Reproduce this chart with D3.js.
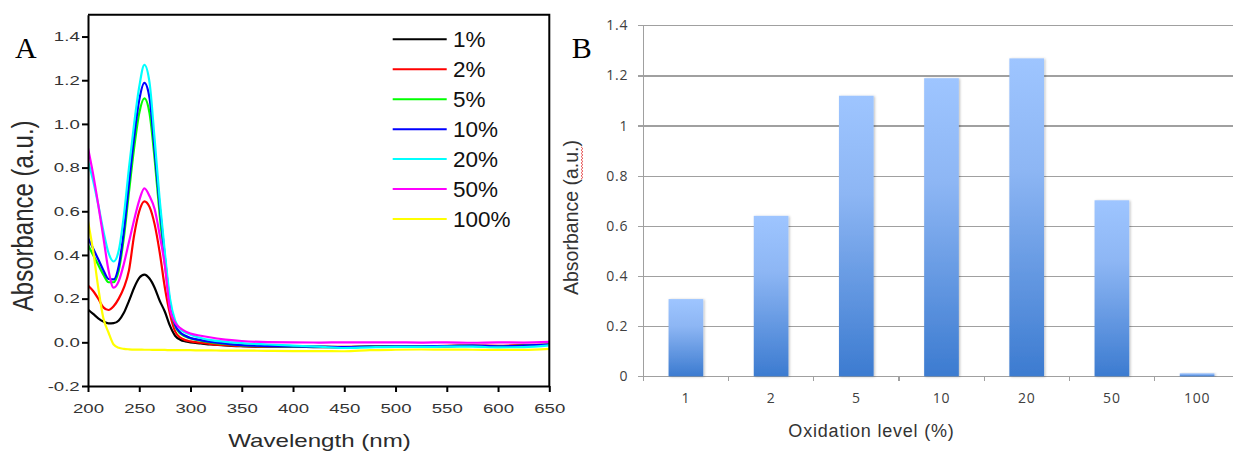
<!DOCTYPE html>
<html lang="en">
<head>
    <meta charset="UTF-8"/>
    <title>d3</title>
    <script src="https://d3js.org/d3.v7.min.js"></script>
    <style>
        body { margin: 0; background: #fff; }
        svg { display: block; }
        .a-axis path, .a-axis line { stroke: #000; stroke-width: 2; fill: none; }
        .a-axis text { font: 13.5px "Liberation Sans", Arial, sans-serif; fill: #333; }
        .b-axis path, .b-axis line { stroke: #a0a0a0; stroke-width: 1.2; fill: none; shape-rendering: crispedges; }
        .b-axis text { font: 14px "Open Sans", sans-serif; fill: #404040; letter-spacing: 0.8px; }
        .b-axis .grid-line { stroke: #a0a0a0; stroke-width: 1.2; }
    </style>
</head>
<body></body>
<script type="text/javascript">
    // ---- panel A: UV-vis spectra ----
    const wavelengths = [200, 205, 210, 215, 220, 225, 230, 235, 240, 245, 250, 255, 260, 265, 270, 275, 280, 285, 290, 295,
        300, 310, 320, 330, 340, 350, 375, 400, 425, 450, 475, 500, 525, 550, 575, 600, 625, 650];
    const abs1 = [0.150, 0.130, 0.110, 0.095, 0.087, 0.088, 0.100, 0.135, 0.190, 0.250, 0.295, 0.310, 0.292, 0.250, 0.190, 0.140, 0.075, 0.030, 0.012, 0.004,
        0.000, -0.005, -0.010, -0.013, -0.016, -0.018, -0.020, -0.020, -0.022, -0.022, -0.020, -0.018, -0.018, -0.017, -0.016, -0.018, -0.015, -0.012];
    const abs2 = [0.260, 0.235, 0.200, 0.160, 0.148, 0.165, 0.200, 0.250, 0.330, 0.490, 0.600, 0.645, 0.620, 0.540, 0.410, 0.250, 0.130, 0.050, 0.022, 0.010,
        0.004, -0.002, -0.008, -0.012, -0.015, -0.017, -0.020, -0.020, -0.020, -0.021, -0.020, -0.018, -0.018, -0.016, -0.015, -0.016, -0.013, -0.010];
    const abs5 = [0.446, 0.400, 0.355, 0.310, 0.275, 0.275, 0.330, 0.480, 0.690, 0.890, 1.050, 1.117, 1.050, 0.840, 0.580, 0.360, 0.170, 0.075, 0.040, 0.027,
        0.018, 0.008, 0.000, -0.006, -0.010, -0.014, -0.018, -0.020, -0.021, -0.022, -0.020, -0.019, -0.018, -0.017, -0.016, -0.018, -0.015, -0.011];
    const abs10 = [0.477, 0.430, 0.380, 0.330, 0.290, 0.288, 0.350, 0.510, 0.730, 0.940, 1.110, 1.188, 1.120, 0.880, 0.620, 0.390, 0.180, 0.080, 0.045, 0.030,
        0.020, 0.010, 0.002, -0.004, -0.009, -0.013, -0.017, -0.019, -0.020, -0.022, -0.020, -0.019, -0.018, -0.017, -0.015, -0.018, -0.015, -0.010];
    const abs20 = [0.830, 0.740, 0.630, 0.510, 0.410, 0.370, 0.420, 0.580, 0.800, 1.000, 1.170, 1.270, 1.190, 0.930, 0.650, 0.410, 0.200, 0.100, 0.060, 0.045,
        0.035, 0.020, 0.010, 0.004, 0.000, -0.004, -0.010, -0.015, -0.020, -0.026, -0.023, -0.021, -0.021, -0.020, -0.020, -0.023, -0.022, -0.014];
    const abs50 = [0.890, 0.770, 0.630, 0.480, 0.330, 0.250, 0.280, 0.360, 0.460, 0.560, 0.650, 0.705, 0.670, 0.610, 0.490, 0.350, 0.150, 0.090, 0.065, 0.050,
        0.040, 0.030, 0.022, 0.015, 0.010, 0.006, 0.001, 0.000, -0.001, 0.000, 0.000, 0.000, -0.001, 0.000, -0.002, 0.000, -0.001, 0.002];
    const abs100 = [0.555, 0.420, 0.250, 0.110, 0.045, -0.010, -0.025, -0.030, -0.032, -0.033, -0.033, -0.034, -0.034, -0.035, -0.035, -0.035, -0.036, -0.036, -0.036, -0.036,
        -0.036, -0.037, -0.037, -0.038, -0.038, -0.038, -0.039, -0.040, -0.040, -0.041, -0.036, -0.034, -0.033, -0.033, -0.034, -0.035, -0.035, -0.030];
    const seriesNames = ["1%", "2%", "5%", "10%", "20%", "50%", "100%"];
    const seriesColors = ["#000000", "#ff0000", "#00ff00", "#0000ff", "#00ffff", "#ff00ff", "#ffff00"];
    const xTicksA = [200, 250, 300, 350, 400, 450, 500, 550, 600, 650];
    const yTicksA = [-0.2, 0, 0.2, 0.4, 0.6, 0.8, 1.0, 1.2, 1.4];

    // ---- panel B: bar chart ----
    const levels = ["1", "2", "5", "10", "20", "50", "100"];
    const barValues = [0.308, 0.640, 1.119, 1.189, 1.268, 0.702, 0.012];
    const yTicksB = [0, 0.2, 0.4, 0.6, 0.8, 1, 1.2, 1.4];

    let width = 1233, height = 453;

    let svg = d3.select("body").append("svg")
        .attr("width", width)
        .attr("height", height);

    let defs = svg.append("defs");

    // ================= panel A =================
    let a = {left: 88, right: 549.3, top: 14.7, bottom: 386};

    let xA = d3.scaleLinear().domain([200, 650]).range([a.left, a.right]);
    let yA = d3.scaleLinear().domain([-0.2, 1.5]).range([a.bottom, a.top]);

    defs.append("clipPath").attr("id", "clipA")
        .append("rect")
        .attr("x", a.left).attr("y", a.top)
        .attr("width", a.right - a.left).attr("height", a.bottom - a.top);

    let seriesValues = [abs1, abs2, abs5, abs10, abs20, abs50, abs100];

    let line = d3.line()
        .x((d, i) => xA(wavelengths[i]))
        .y(d => yA(d))
        .curve(d3.curveMonotoneX);

    svg.append("g")
        .attr("clip-path", "url(#clipA)")
        .selectAll("path")
        .data(seriesValues)
        .join("path")
        .attr("d", line)
        .attr("fill", "none")
        .attr("stroke", (d, i) => seriesColors[i])
        .attr("stroke-width", 2.2)
        .attr("stroke-linejoin", "round");

    // frame (top and right)
    svg.append("path")
        .attr("d", `M${a.left},${a.top}H${a.right}V${a.bottom}`)
        .attr("fill", "none")
        .attr("stroke", "#000")
        .attr("stroke-width", 2);

    let fmtA = d3.format(".1f");
    let gyA = svg.append("g")
        .attr("class", "a-axis")
        .attr("transform", "translate(" + a.left + ",0)")
        .call(d3.axisLeft(yA).tickValues(yTicksA).tickSize(6).tickPadding(0).tickSizeOuter(0)
            .tickFormat(d => fmtA(d).replace("\u2212", "-")));
    gyA.selectAll("text").attr("transform", "scale(1.38,1)");

    let gxA = svg.append("g")
        .attr("class", "a-axis")
        .attr("transform", "translate(0," + a.bottom + ")")
        .call(d3.axisBottom(xA).tickValues(xTicksA).tickSize(6).tickPadding(11).tickSizeOuter(0));
    gxA.selectAll("text").attr("transform", "scale(1.38,1)");

    // legend
    let legendY = d3.scalePoint().domain(seriesNames).range([39.3, 219]);
    let legend = svg.append("g");
    legend.selectAll("line")
        .data(seriesNames)
        .join("line")
        .attr("x1", 392.7).attr("x2", 446.7)
        .attr("y1", d => legendY(d)).attr("y2", d => legendY(d))
        .attr("stroke", (d, i) => seriesColors[i])
        .attr("stroke-width", 2);
    legend.selectAll("text")
        .data(seriesNames)
        .join("text")
        .attr("x", 453)
        .attr("y", d => legendY(d))
        .attr("dy", "0.36em")
        .style("font", '22.5px "Liberation Sans", Arial, sans-serif')
        .style("fill", "#111")
        .text(d => d);

    // titles
    svg.append("text")
        .attr("transform", "translate(319.5,446.7) scale(1.34,1)")
        .attr("text-anchor", "middle")
        .style("font", '18px "Liberation Sans", Arial, sans-serif')
        .style("fill", "#2b2b2b")
        .text("Wavelength (nm)");

    svg.append("text")
        .attr("transform", "translate(33.3,215.8) scale(1.2,1) rotate(-90)")
        .attr("text-anchor", "middle")
        .style("font", '24px "Liberation Sans", Arial, sans-serif')
        .style("fill", "#2b2b2b")
        .text("Absorbance (a.u.)");

    svg.append("text")
        .attr("x", 15).attr("y", 58.3)
        .style("font", '30px "Liberation Serif", "Times New Roman", serif')
        .style("fill", "#000")
        .text("A");

    // ================= panel B =================
    let b = {left: 643.3, right: 1239.7, top: 25.3, bottom: 376.3};

    let xB = d3.scaleBand().domain(levels).range([b.left, b.right]);
    let yB = d3.scaleLinear().domain([0, 1.4]).range([b.bottom, b.top]);

    let grad = defs.append("linearGradient")
        .attr("id", "barGrad")
        .attr("x1", 0).attr("y1", 0).attr("x2", 0).attr("y2", 1);
    grad.append("stop").attr("offset", 0).attr("stop-color", "#9ec5ff");
    grad.append("stop").attr("offset", 0.35).attr("stop-color", "#8db6f4");
    grad.append("stop").attr("offset", 1).attr("stop-color", "#3c7bd0");

    let shadow = defs.append("filter").attr("id", "barShadow")
        .attr("x", "-20%").attr("y", "-20%").attr("width", "150%").attr("height", "140%");
    shadow.append("feDropShadow")
        .attr("dx", 1.2).attr("dy", 0.5).attr("stdDeviation", 1)
        .attr("flood-color", "#000").attr("flood-opacity", 0.25);

    let gyB = svg.append("g")
        .attr("class", "b-axis")
        .attr("transform", "translate(" + b.left + ",0)")
        .call(d3.axisLeft(yB).tickValues(yTicksB).tickSize(5).tickPadding(10).tickSizeOuter(0)
            .tickFormat(d3.format("~g")));

    // horizontal grid lines
    gyB.selectAll("g.tick")
        .append("line")
        .classed("grid-line", true)
        .attr("x1", 0)
        .attr("x2", b.right - b.left);

    let gxB = svg.append("g")
        .attr("class", "b-axis")
        .attr("transform", "translate(0," + b.bottom + ")")
        .call(d3.axisBottom(xB).tickSize(0).tickPadding(17).tickSizeOuter(0));

    // category separator ticks
    gxB.selectAll("line.sep")
        .data(levels)
        .join("line")
        .attr("class", "sep")
        .attr("x1", d => xB(d)).attr("x2", d => xB(d))
        .attr("y1", 0).attr("y2", 5);

    let barW = xB.bandwidth() * 0.407;
    svg.append("g")
        .selectAll("rect")
        .data(barValues)
        .join("rect")
        .attr("x", (d, i) => xB(levels[i]) + (xB.bandwidth() - barW) / 2)
        .attr("y", d => yB(d))
        .attr("width", barW)
        .attr("height", d => yB(0) - yB(d))
        .attr("fill", "url(#barGrad)")
        .attr("filter", "url(#barShadow)");

    svg.append("text")
        .attr("x", 871.5).attr("y", 437)
        .attr("text-anchor", "middle")
        .style("font", '18px "Liberation Sans", Arial, sans-serif')
        .style("letter-spacing", "0.8px")
        .style("fill", "#333")
        .text("Oxidation level (%)");

    let gTitleB = svg.append("g")
        .attr("transform", "translate(578.3,217.5) rotate(-90)");
    let tB = gTitleB.append("text")
        .attr("text-anchor", "middle")
        .style("font", '19.5px "Liberation Sans", Arial, sans-serif')
        .style("fill", "#333")
        .text("Absorbance (a.u.)");

    // spell-check squiggle under "a.u."
    let p0 = tB.node().getStartPositionOfChar(12),
        p1 = tB.node().getEndPositionOfChar(15);
    let squig = d3.range(p0.x, p1.x, 1.6).map((x, i) => [x, i % 2 ? 4.6 : 2.8]);
    gTitleB.append("path")
        .attr("d", d3.line()(squig))
        .attr("fill", "none")
        .attr("stroke", "#e23b3b")
        .attr("stroke-width", 0.9);

    svg.append("text")
        .attr("x", 571.7).attr("y", 58.3)
        .style("font", '30px "Liberation Serif", "Times New Roman", serif')
        .style("fill", "#000")
        .text("B");
</script>
</html>
